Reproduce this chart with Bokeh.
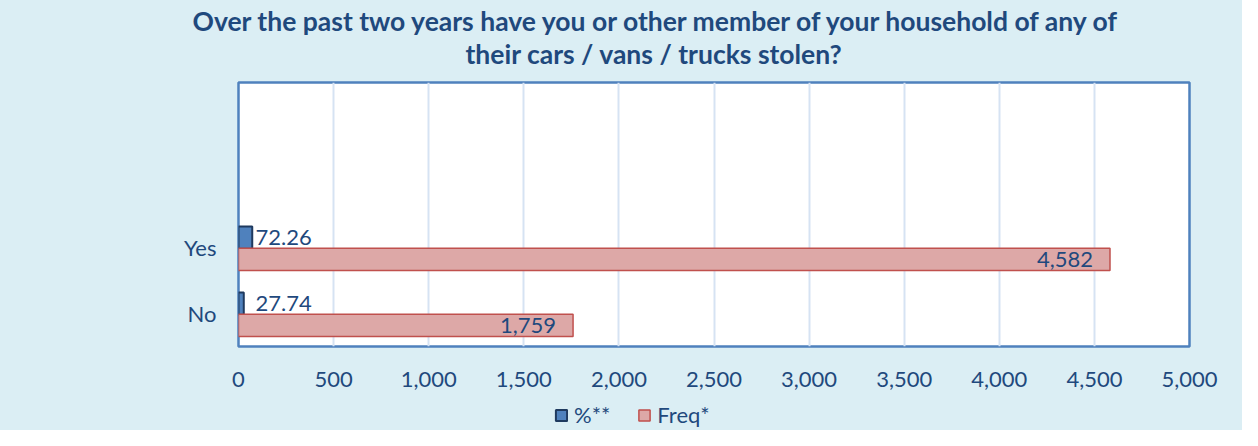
from bokeh.plotting import figure
from bokeh.layouts import column
from bokeh.models import (Range1d, FixedTicker, Legend, LegendItem, ColumnDataSource,
                          LabelSet, Title, CustomJSTickFormatter)
from bokeh.embed import file_html
from bokeh.resources import INLINE
from bokeh.core.properties import value

# ---- data ----
categories = ["No", "Yes"]
pct = [27.74, 72.26]
freq = [1759, 4582]
pct_labels = ["27.74", "72.26"]
freq_labels = ["1,759", "4,582"]
series_names = ["%**", "Freq*"]
x_ticks = [0, 500, 1000, 1500, 2000, 2500, 3000, 3500, 4000, 4500, 5000]
title_lines = ["Over the past two years have you or other member of your household of any of",
               "their cars / vans / trucks stolen?"]

FONT = "Lato"
TXT = "#1F497D"
BG = "#DBEEF4"
PCT_STYLE = dict(fill_color="#4F81BD", line_color="#1F3A5F", line_width=2)
FREQ_STYLE = dict(fill_color="#DDA8A7", line_color="#C0504D", line_width=1.5)

ypos = [i + 0.5 for i in range(len(categories))]
src = ColumnDataSource(dict(
    cat=categories,
    y_pct=[y + 0.15 for y in ypos],
    y_freq=[y - 0.18 for y in ypos],
    pct=pct, freq=freq,
    pct_lab=pct_labels, freq_lab=freq_labels,
    zero=[0] * len(categories),
))

p = figure(width=1242, height=400, output_backend="svg", toolbar_location=None,
           x_range=Range1d(0, 5000), y_range=Range1d(0, 4),
           min_border_left=238, min_border_right=53, min_border_top=82, min_border_bottom=54)
p.border_fill_color = BG
p.background_fill_color = "white"
p.outline_line_color = "#4F81BD"
p.outline_line_width = 2.5

p.hbar(y="y_pct", left=0, right="pct", height=0.34, source=src, **PCT_STYLE)
p.hbar(y="y_freq", left=0, right="freq", height=0.34, source=src, **FREQ_STYLE)

p.add_layout(LabelSet(x="zero", y="y_pct", text="pct_lab", source=src, x_offset=17,
                      text_baseline="middle", text_align="left", text_color=TXT,
                      text_font=value(FONT), text_font_size="22px"))
p.add_layout(LabelSet(x="freq", y="y_freq", text="freq_lab", source=src, x_offset=-17,
                      text_baseline="middle", text_align="right", text_color=TXT,
                      text_font=value(FONT), text_font_size="22px"))

# axes
p.xaxis.ticker = FixedTicker(ticks=x_ticks)
p.xaxis.formatter = CustomJSTickFormatter(code="return tick.toLocaleString('en-US');")
p.yaxis.ticker = FixedTicker(ticks=ypos)
p.yaxis.major_label_overrides = {y: c for y, c in zip(ypos, categories)}
for ax in (p.xaxis, p.yaxis):
    ax.axis_line_color = None
    ax.major_tick_line_color = None
    ax.minor_tick_line_color = None
    ax.major_label_text_font = FONT
    ax.major_label_text_font_size = "22px"
    ax.major_label_text_color = TXT
p.xaxis.major_label_standoff = 19
p.yaxis.major_label_standoff = 16

p.xgrid.grid_line_color = "#D6E3F3"
p.xgrid.grid_line_width = 2
p.ygrid.grid_line_color = None

# title lines (second line added first: it sits nearest the frame)
title_offsets = [-46, 227]
title_standoffs = [-27, 25]
for t, off, so in reversed(list(zip(title_lines, title_offsets, title_standoffs))):
    p.add_layout(Title(text=t, align="left", offset=off, standoff=so, text_color=TXT,
                       text_font=FONT, text_font_size="26.5px", text_font_style="bold"),
                 "above")

# legend strip below the chart (its frame is aligned with the chart's frame)
pl = figure(width=1242, height=30, output_backend="svg", toolbar_location=None,
            x_range=Range1d(0, 1), y_range=Range1d(0, 1), min_border=0)
pl.border_fill_color = BG
pl.background_fill_color = BG
pl.outline_line_color = None
pl.xaxis.visible = False
pl.yaxis.visible = False
pl.grid.visible = False
lr1 = pl.hbar(y="y_pct", left=0, right="pct", height=0.34, source=src, visible=False, **PCT_STYLE)
lr2 = pl.hbar(y="y_freq", left=0, right="freq", height=0.34, source=src, visible=False, **FREQ_STYLE)
legend = Legend(items=[LegendItem(label=series_names[0], renderers=[lr1]),
                       LegendItem(label=series_names[1], renderers=[lr2])],
                location=(316, 2), orientation="horizontal",
                glyph_width=14, glyph_height=14, label_standoff=6, spacing=27,
                padding=0, margin=0, background_fill_alpha=0, border_line_color=None,
                label_text_font=FONT, label_text_font_size="22px", label_text_color=TXT)
pl.add_layout(legend, "center")

layout = column(p, pl, spacing=0, styles={"background-color": BG})
open("out.html", "w").write(file_html(layout, INLINE))
